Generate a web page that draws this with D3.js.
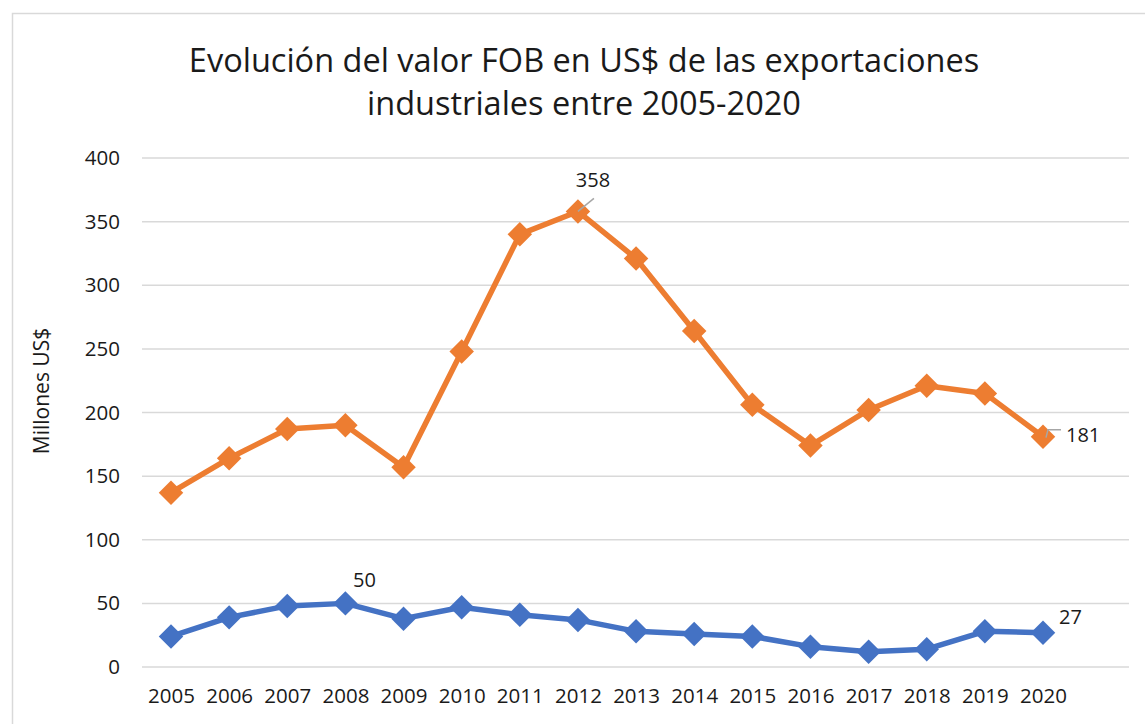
<!DOCTYPE html>
<html>
<head>
<meta charset="utf-8">
<script src="https://cdn.jsdelivr.net/npm/d3@7"></script>
<style>
  html, body { margin: 0; padding: 0; background: #fff; }
  svg { display: block; }
  text { font-family: "Open Sans", "DejaVu Sans", sans-serif; fill: #1a1a1a; }
</style>
</head>
<body>
<script>
const years = ["2005","2006","2007","2008","2009","2010","2011","2012","2013","2014","2015","2016","2017","2018","2019","2020"];
const seriesOrange = [137,164,187,190,157,248,340,358,321,264,206,174,202,221,215,181];
const seriesBlue   = [24,39,48,50,38,47,41,37,28,26,24,16,12,14,28,27];
const yTicks = [0,50,100,150,200,250,300,350,400];
const titleLines = ["Evolución del valor FOB en US$ de las exportaciones", "industriales entre 2005-2020"];
const yAxisTitle = "Millones US$";
const labelled = [
  {series: "orange", idx: 7, dx: 15, dy: -30, leader: true, anchor: "middle"},
  {series: "orange", idx: 15, dx: 23, dy: 0, leader: true, anchor: "start"},
  {series: "blue", idx: 3, dx: 19, dy: -22, leader: false, anchor: "middle"},
  {series: "blue", idx: 15, dx: 16, dy: -14, leader: false, anchor: "start"}
];

const W = 1145, H = 724;
const svg = d3.select("body").append("svg").attr("width", W).attr("height", H);

svg.append("rect").attr("x", 12.5).attr("y", 13.5).attr("width", W).attr("height", H)
  .attr("fill", "none").attr("stroke", "#d9d9d9").attr("stroke-width", 1.5);

const x = d3.scalePoint().domain(years).range([171, 1043]);
const y = d3.scaleLinear().domain([0, 400]).range([667, 158]);
const gridX0 = 142, gridX1 = 1129;

svg.append("g").selectAll("line").data(yTicks).join("line")
  .attr("x1", gridX0).attr("x2", gridX1)
  .attr("y1", d => y(d)).attr("y2", d => y(d))
  .attr("stroke", "#d9d9d9").attr("stroke-width", 1.5);

const yAxis = d3.axisLeft(y).tickValues(yTicks).tickSize(0).tickPadding(0);
const gy = svg.append("g").attr("transform", `translate(${gridX0 - 22},0)`).call(yAxis);
gy.select(".domain").remove();
gy.selectAll("text").style("font-size", "20.5px").attr("fill", "#1a1a1a").style("font-family", '"Open Sans", sans-serif');

const xAxis = d3.axisBottom(x).tickSize(0).tickPadding(0);
const gx = svg.append("g").attr("transform", `translate(0,${y(0) + 21})`).call(xAxis);
gx.select(".domain").remove();
gx.selectAll("text").style("font-size", "20.5px").attr("fill", "#1a1a1a").style("font-family", '"Open Sans", sans-serif');

const title = svg.append("text").attr("text-anchor", "middle").style("font-size", "32.5px");
title.selectAll("tspan").data(titleLines).join("tspan")
  .attr("x", 584).attr("y", (d, i) => 72 + i * 43).text(d => d);

svg.append("text").attr("transform", "translate(49,391) rotate(-90)")
  .attr("text-anchor", "middle").style("font-size", "21px").text(yAxisTitle);

const colors = {orange: "#ED7D31", blue: "#4472C4"};
const data = {orange: seriesOrange, blue: seriesBlue};
const line = d3.line().x((d, i) => x(years[i])).y(d => y(d));

["orange", "blue"].forEach(s => {
  svg.append("path").datum(data[s]).attr("d", line)
    .attr("fill", "none").attr("stroke", colors[s]).attr("stroke-width", 5.5).attr("stroke-linejoin", "round");
  svg.append("g").selectAll("path").data(data[s]).join("path")
    .attr("d", d3.symbol().type(d3.symbolSquare).size(300))
    .attr("transform", (d, i) => `translate(${x(years[i])},${y(d)}) rotate(45)`)
    .attr("fill", colors[s]);
});

labelled.forEach(l => {
  const v = data[l.series][l.idx];
  const px = x(years[l.idx]), py = y(v);
  if (l.leader) {
    if (l.anchor === "middle") {
      svg.append("line").attr("x1", px).attr("y1", py).attr("x2", px + 16).attr("y2", py - 13)
        .attr("stroke", "#a6a6a6").attr("stroke-width", 1.5);
    } else {
      svg.append("path").attr("d", `M${px + 3},${py + 1}L${px + 5},${py - 7}L${px + 18},${py - 7}`)
        .attr("fill", "none").attr("stroke", "#a6a6a6").attr("stroke-width", 1.5);
    }
  }
  svg.append("text").attr("x", px + l.dx).attr("y", py + l.dy)
    .attr("text-anchor", l.anchor).attr("dominant-baseline", "middle")
    .style("font-size", "20px").text(v);
});
</script>
</body>
</html>
